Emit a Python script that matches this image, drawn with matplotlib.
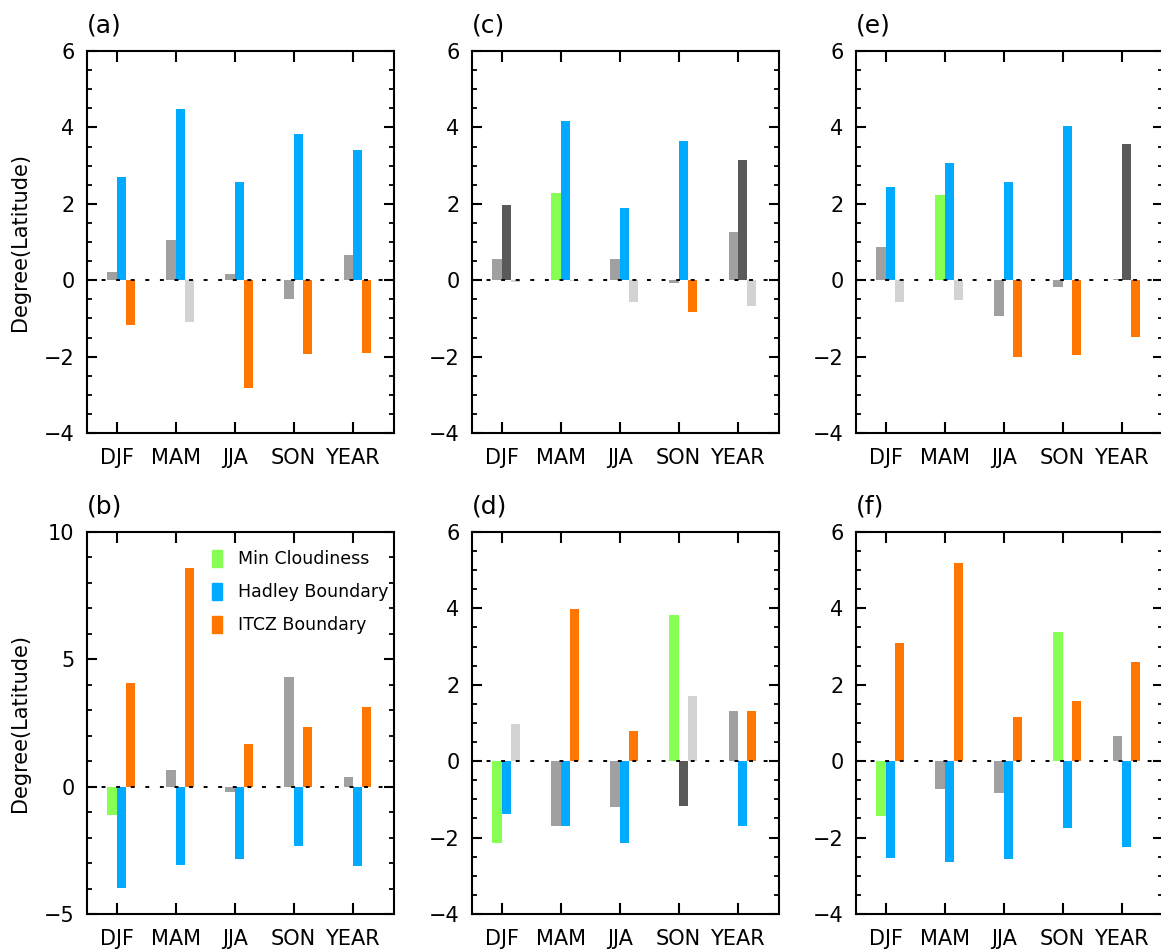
import matplotlib
matplotlib.use("Agg")
import matplotlib.pyplot as plt
import numpy as np
from matplotlib.patches import Patch
from matplotlib.ticker import MultipleLocator

seasons = ["DJF", "MAM", "JJA", "SON", "YEAR"]

# shift of each boundary (degree latitude); sig = 1 where significant
cloud_a = [0.21, 1.04, 0.16, -0.50, 0.65]
hadley_a = [2.71, 4.49, 2.58, 3.84, 3.42]
itcz_a = [-1.17, -1.10, -2.82, -1.93, -1.90]
sig_cloud_a = [0, 0, 0, 0, 0]
sig_hadley_a = [1, 1, 1, 1, 1]
sig_itcz_a = [1, 0, 1, 1, 1]

cloud_b = [-1.13, 0.65, -0.21, 4.32, 0.39]
hadley_b = [-3.98, -3.09, -2.85, -2.34, -3.12]
itcz_b = [4.06, 8.58, 1.67, 2.33, 3.11]
sig_cloud_b = [1, 0, 0, 0, 0]
sig_hadley_b = [1, 1, 1, 1, 1]
sig_itcz_b = [1, 1, 1, 1, 1]

cloud_c = [0.55, 2.27, 0.55, -0.07, 1.25]
hadley_c = [1.98, 4.17, 1.88, 3.65, 3.15]
itcz_c = [-0.04, -0.02, -0.57, -0.83, -0.67]
sig_cloud_c = [0, 1, 0, 0, 0]
sig_hadley_c = [0, 1, 1, 1, 0]
sig_itcz_c = [0, 0, 0, 1, 0]

cloud_d = [-2.14, -1.69, -1.20, 3.83, 1.31]
hadley_d = [-1.38, -1.69, -2.14, -1.17, -1.69]
itcz_d = [0.97, 3.98, 0.79, 1.70, 1.31]
sig_cloud_d = [1, 0, 0, 1, 0]
sig_hadley_d = [1, 1, 1, 0, 1]
sig_itcz_d = [0, 1, 1, 0, 1]

cloud_e = [0.86, 2.22, -0.93, -0.17, 0.02]
hadley_e = [2.45, 3.08, 2.58, 4.04, 3.57]
itcz_e = [-0.57, -0.51, -2.00, -1.95, -1.48]
sig_cloud_e = [0, 1, 0, 0, 0]
sig_hadley_e = [1, 1, 1, 1, 0]
sig_itcz_e = [0, 0, 1, 1, 1]

cloud_f = [-1.43, -0.72, -0.83, 3.38, 0.65]
hadley_f = [-2.53, -2.64, -2.56, -1.75, -2.24]
itcz_f = [3.09, 5.19, 1.15, 1.57, 2.59]
sig_cloud_f = [1, 0, 0, 1, 0]
sig_hadley_f = [1, 1, 1, 1, 1]
sig_itcz_f = [1, 1, 1, 1, 1]

GREEN = "#88FF55"
BLUE = "#00AAFF"
ORANGE = "#FF7700"
# colours used when the shift is not significant
GRAY = "#A0A0A0"
DARK = "#595959"
LIGHT = "#D3D3D3"

plt.rcParams["font.family"] = "DejaVu Sans"
plt.rcParams["font.size"] = 15

fig = plt.figure(figsize=(11.61, 9.5), dpi=100)

W = 307 / 1161
H = 382 / 950
lefts = [87 / 1161, 472 / 1161, 856 / 1161]
bottoms = [1 - 433 / 950, 1 - 914 / 950]

panels = [
    ("a", 0, 0, cloud_a, hadley_a, itcz_a, sig_cloud_a, sig_hadley_a, sig_itcz_a),
    ("b", 0, 1, cloud_b, hadley_b, itcz_b, sig_cloud_b, sig_hadley_b, sig_itcz_b),
    ("c", 1, 0, cloud_c, hadley_c, itcz_c, sig_cloud_c, sig_hadley_c, sig_itcz_c),
    ("d", 1, 1, cloud_d, hadley_d, itcz_d, sig_cloud_d, sig_hadley_d, sig_itcz_d),
    ("e", 2, 0, cloud_e, hadley_e, itcz_e, sig_cloud_e, sig_hadley_e, sig_itcz_e),
    ("f", 2, 1, cloud_f, hadley_f, itcz_f, sig_cloud_f, sig_hadley_f, sig_itcz_f),
]

x = np.arange(len(seasons))
bw = 0.155

for tag, col, row, cl, ha, it, sc, sh, si in panels:
    ax = fig.add_axes([lefts[col], bottoms[row], W, H])

    ax.bar(x - bw, cl, bw, align="edge",
           color=[GREEN if s else GRAY for s in sc])
    ax.bar(x, ha, bw, align="edge",
           color=[BLUE if s else DARK for s in sh])
    ax.bar(x + bw, it, bw, align="edge",
           color=[ORANGE if s else LIGHT for s in si])

    ax.axhline(0, color="black", lw=1.4, ls=(0, (2, 5.5)), zorder=3)

    ax.set_xlim(-0.5, 4.7)
    ax.set_xticks(x)
    ax.set_xticklabels(seasons)

    if tag == "b":
        ax.set_ylim(-5, 10)
        ax.yaxis.set_major_locator(MultipleLocator(5))
        ax.yaxis.set_minor_locator(MultipleLocator(1))
    else:
        ax.set_ylim(-4, 6)
        ax.yaxis.set_major_locator(MultipleLocator(2))
        ax.yaxis.set_minor_locator(MultipleLocator(0.5))
    ax.set_yticklabels([str(int(v)).replace("-", "\u2212") for v in ax.get_yticks()])

    for s in ax.spines.values():
        s.set_linewidth(1.5)
    ax.tick_params(axis="x", which="major", direction="in", top=True,
                   length=8, width=1.5, pad=11)
    ax.tick_params(axis="y", which="major", direction="in", right=True,
                   length=7, width=1.5, pad=9)
    ax.tick_params(axis="y", which="minor", direction="in", right=True,
                   length=3.5, width=1.3)

    ax.text(0.0, 1.068, "(" + tag + ")", transform=ax.transAxes,
            ha="left", va="center", fontsize=18)

    if col == 0:
        ax.set_ylabel("Degree(Latitude)", fontsize=15, labelpad=10)

    if tag == "b":
        handles = [Patch(color=GREEN), Patch(color=BLUE), Patch(color=ORANGE)]
        ax.legend(handles, ["Min Cloudiness", "Hadley Boundary", "ITCZ Boundary"],
                  loc="upper right", frameon=False, fontsize=12.5,
                  handlelength=0.55, handleheight=1.1, handletextpad=0.9,
                  labelspacing=0.85, borderaxespad=0.3,
                  bbox_to_anchor=(1.02, 0.985))

fig.savefig("out.png", dpi=100)
